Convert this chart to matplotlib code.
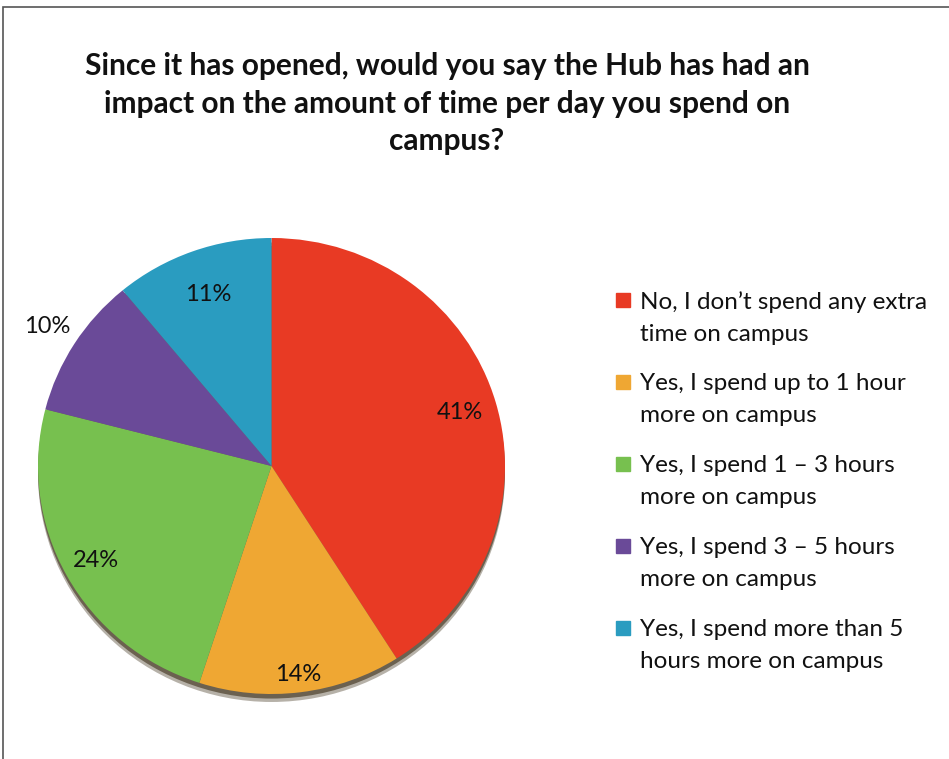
import matplotlib.pyplot as plt
from matplotlib.lines import Line2D
from matplotlib.patches import Ellipse
import numpy as np

plt.rcParams['font.family'] = ['Lato', 'DejaVu Sans']

title = ('Since it has opened, would you say the Hub has had an\n'
         'impact on the amount of time per day you spend on\n'
         'campus?')
answers = ["No, I don\u2019t spend any extra\ntime on campus",
           "Yes, I spend up to 1 hour\nmore on campus",
           "Yes, I spend 1 \u2013 3 hours\nmore on campus",
           "Yes, I spend 3 \u2013 5 hours\nmore on campus",
           "Yes, I spend more than 5\nhours more on campus"]
shares = [41, 14, 24, 10, 11]
colors = ['#E83A24', '#EFA733', '#77C04F', '#6A4A98', '#2A9CC0']

W, H = 949, 759
fig = plt.figure(figsize=(W / 100, H / 100), dpi=100)

# thin frame, cut off at right and bottom like the scan
fig.patches.append(plt.Rectangle((3 / W, -0.1), 1.2, 1 - 7 / H + 0.1,
                                 transform=fig.transFigure, fill=False,
                                 edgecolor='#555555', linewidth=1.2))

fig.text(447 / W, 1 - 52 / H, title, ha='center', va='top', fontsize=21.5,
         fontweight='bold', linespacing=1.42, color='#111111')

# pie box in px: x 38..505, y 238..694 (slightly squashed, like the 3-D look)
x0, x1, y0, y1 = 38, 505, 238, 694
ax = fig.add_axes([x0 / W, (H - y1) / H, (x1 - x0) / W, (y1 - y0) / H])

# dark rim under the pie
ax.add_patch(Ellipse((0, -0.035), 2.0, 2.0, color='#2e2008', alpha=0.35,
                     lw=0, zorder=0, clip_on=False))
ax.add_patch(Ellipse((0, -0.02), 2.0, 2.0, color='#2e2008', alpha=0.55,
                     lw=0, zorder=1, clip_on=False))

wedges, _ = ax.pie(shares, colors=colors, startangle=90, counterclock=False,
                   radius=1.0, wedgeprops=dict(linewidth=0, zorder=2))
for w in wedges:
    w.set_clip_on(False)

label_r = [0.84, 0.92, 0.86, 1.14, 0.80]
for w, s, d in zip(wedges, shares, label_r):
    ang = np.deg2rad((w.theta1 + w.theta2) / 2)
    ax.text(d * np.cos(ang), d * np.sin(ang), f'{s}%', ha='center',
            va='center', fontsize=17, color='#111111', zorder=5)

ax.set_xlim(-1, 1)
ax.set_ylim(-1, 1)
ax.set_aspect('auto')
ax.axis('off')

# legend, square aligned with the first line of each entry
for i, (lab, c) in enumerate(zip(answers, colors)):
    yc = 301 + 82 * i
    fig.add_artist(Line2D([623 / W], [1 - (yc - 1) / H], marker='s',
                          markersize=9.5, markerfacecolor=c,
                          markeredgecolor=c, linestyle='none',
                          transform=fig.transFigure))
    fig.text(640 / W, 1 - (yc - 10) / H, lab, ha='left', va='top',
             fontsize=17.5, linespacing=1.66, color='#111111')

fig.savefig('out.png', dpi=100)
